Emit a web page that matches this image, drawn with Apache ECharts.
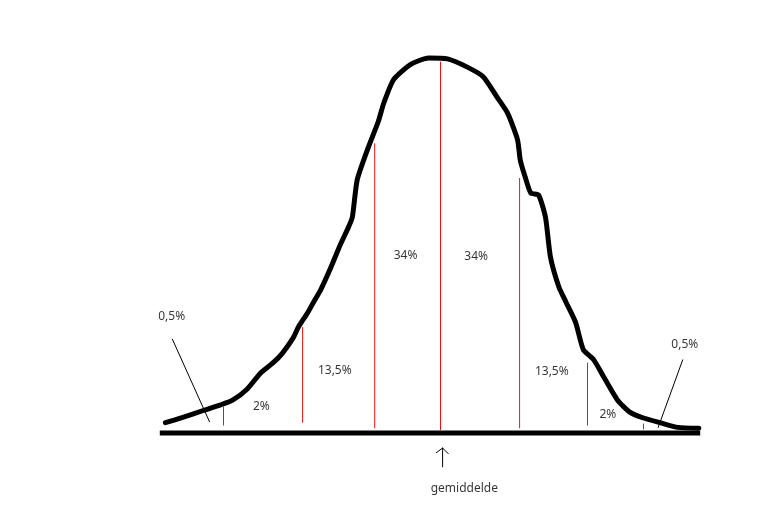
<!DOCTYPE html>
<html>
<head>
<meta charset="utf-8">
<script src="https://cdn.jsdelivr.net/npm/echarts@6/dist/echarts.min.js"></script>
<style>
html,body{margin:0;padding:0;background:#fff;}
#chart{width:769px;height:510px;}
</style>
</head>
<body>
<div id="chart"></div>
<script>
// x in standard deviations from the mean, y as density
var curveX = [-3.93,-3.67,-3.39,-3.14,-2.97,-2.76,-2.57,-2.39,-2.26,-2.10,-2.03,-1.90,-1.81,-1.71,-1.57,-1.43,-1.33,-1.26,-1.19,-1.03,-0.89,-0.81,-0.67,-0.43,-0.17,0.10,0.39,0.61,0.81,0.96,1.10,1.14,1.21,1.29,1.40,1.50,1.57,1.69,1.79,1.93,2.04,2.19,2.33,2.53,2.71,2.90,3.14,3.39,3.69];
var curveY = [0.011,0.017,0.024,0.030,0.035,0.047,0.064,0.075,0.085,0.102,0.113,0.128,0.140,0.153,0.176,0.201,0.217,0.230,0.270,0.305,0.332,0.352,0.377,0.393,0.400,0.399,0.390,0.380,0.358,0.341,0.313,0.291,0.273,0.256,0.254,0.230,0.188,0.156,0.140,0.118,0.089,0.078,0.060,0.035,0.022,0.016,0.011,0.006,0.005];

var baselineX = [-4.01, 3.71];
var baselineY = [0, 0];

var dividerX = [-3.10, -1.97, -0.94, 0.00, 1.13, 2.10, 2.90];
var dividerTop = [0.028, 0.113, 0.309, 0.396, 0.272, 0.075, 0.010];
var dividerBottom = [0.008, 0.011, 0.005, 0.003, 0.005, 0.008, 0.004];

var labelTexts = ["0,5%", "2%", "13,5%", "34%", "34%", "13,5%", "2%", "0,5%", "gemiddelde"];
var labelX = [-3.84, -2.56, -1.51, -0.50, 0.51, 1.59, 2.39, 3.49, 0.34];
var labelY = [0.124, 0.028, 0.067, 0.189, 0.188, 0.066, 0.020, 0.094, -0.059];

var pointerX = [[-3.83, -3.30], [3.46, 3.11]];
var pointerY = [[0.100, 0.012], [0.078, 0.006]];

var arrowShaftX = [0.03, 0.03];
var arrowShaftY = [-0.036, -0.016];
var arrowHeadX = [-0.06, 0.03, 0.11];
var arrowHeadY = [-0.021, -0.016, -0.022];

function zip(xs, ys) { return xs.map(function (x, i) { return [x, ys[i]]; }); }
function lineSeries(data, color, width) {
  return { type: 'line', data: data, showSymbol: false, symbol: 'none', silent: true,
           lineStyle: { color: color, width: width, cap: 'round', join: 'round' },
           animation: false, z: 2 };
}

var series = [];
dividerX.forEach(function (x, i) {
  var s = lineSeries([[x, dividerBottom[i]], [x, dividerTop[i]]], '#ee1111', 1);
  s.lineStyle.cap = 'butt';
  series.push(s);
});
pointerX.forEach(function (xs, i) {
  series.push(lineSeries(zip(xs, pointerY[i]), '#000', 1));
});
series.push(lineSeries(zip(arrowShaftX, arrowShaftY), '#000', 1));
series.push(lineSeries(zip(arrowHeadX, arrowHeadY), '#000', 1));
var curve = lineSeries(zip(curveX, curveY), '#000', 5);
curve.smooth = 0.2; curve.z = 3;
series.push(curve);
var base = lineSeries(zip(baselineX, baselineY), '#000', 5);
base.lineStyle.cap = 'butt'; base.z = 3;
series.push(base);
series.push({
  type: 'scatter', symbolSize: 0, silent: true, animation: false, z: 4,
  data: labelTexts.map(function (t, i) { return { name: t, value: [labelX[i], labelY[i]] }; }),
  label: { show: true, position: 'inside', formatter: '{b}', color: '#000',
           fontFamily: 'Noto Sans', fontSize: 12 }
});

var chart = echarts.init(document.getElementById('chart'), null, { renderer: 'canvas' });
chart.setOption({
  backgroundColor: '#fff',
  animation: false,
  grid: { left: 146.5, top: 11.125, width: 588, height: 487.5, containLabel: false },
  xAxis: { type: 'value', min: -4.2, max: 4.2, show: false },
  yAxis: { type: 'value', min: -0.07, max: 0.45, show: false },
  series: series
});
</script>
</body>
</html>
